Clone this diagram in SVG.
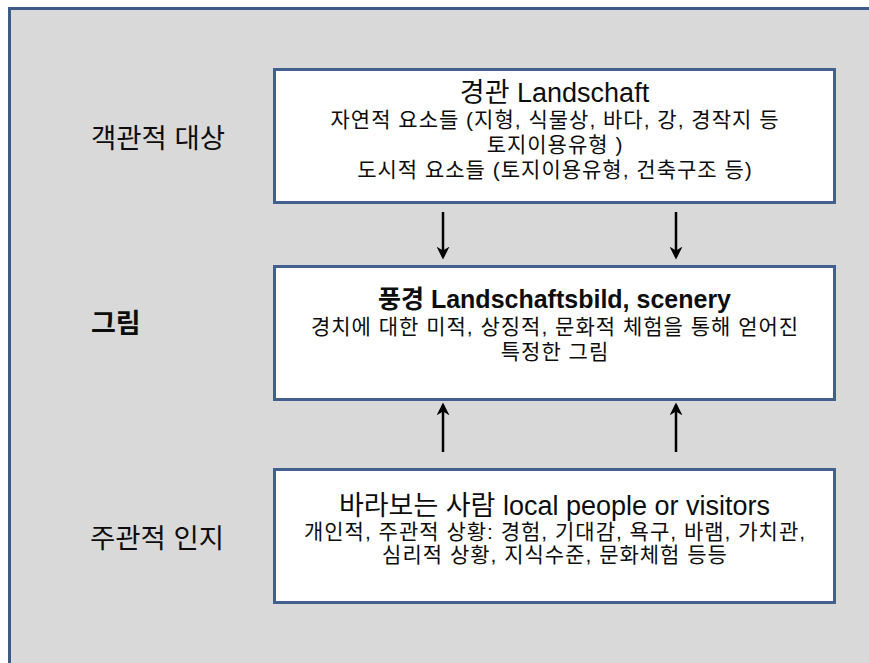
<svg xmlns="http://www.w3.org/2000/svg" width="869" height="663" viewBox="0 0 869 663">
<defs>
<style>
.frame{fill:#d9d9d9;stroke:#3d5b87;stroke-width:3}
.box{fill:#ffffff;stroke:#41618c;stroke-width:3}
text{font-family:"Liberation Sans","Noto Sans CJK KR",sans-serif;fill:#0d0d0d;text-anchor:middle}
.lbl{font-size:27.5px;text-anchor:start}
.title{font-size:27px}
.tb{font-size:25px;font-weight:bold}
.sub{font-size:21px;letter-spacing:1px}
.b{font-weight:bold}
.arr{stroke:#000;stroke-width:2.5;fill:none;marker-end:url(#ah)}
</style>
<marker id="ah" viewBox="0 0 10 10" refX="8" refY="5" markerWidth="5.2" markerHeight="5.2" orient="auto" markerUnits="strokeWidth">
<path d="M0,0 L10,5 L0,10 L3,5 z" fill="#000"/>
</marker>
</defs>
<rect width="869" height="663" fill="#ffffff"/>
<rect class="frame" x="9.5" y="8.5" width="880" height="680"/>
<g id="label-objective"><text class="lbl" x="91" y="148">객관적 대상</text></g>
<g id="label-picture"><text class="lbl b" x="91" y="333" style="font-size:27px">그림</text></g>
<g id="label-subjective"><text class="lbl" x="90" y="548">주관적 인지</text></g>
<g id="node-landschaft">
<rect class="box" x="274.5" y="69.5" width="560" height="133"/>
<text class="title" x="554.5" y="102">경관 Landschaft</text>
<text class="sub" x="555" y="127">자연적 요소들 (지형, 식물상, 바다, 강, 경작지 등</text>
<text class="sub" x="555" y="152">토지이용유형 )</text>
<text class="sub" x="555" y="177">도시적 요소들 (토지이용유형, 건축구조 등)</text>
</g>
<g id="node-scenery">
<rect class="box" x="274.5" y="266.5" width="560" height="133"/>
<text class="tb" x="554.5" y="308">풍경 Landschaftsbild, scenery</text>
<text class="sub" x="555" y="334">경치에 대한 미적, 상징적, 문화적 체험을 통해 얻어진</text>
<text class="sub" x="555" y="359">특정한 그림</text>
</g>
<g id="node-viewer">
<rect class="box" x="274.5" y="469.5" width="560" height="133"/>
<text class="title" x="554.5" y="515">바라보는 사람 local people or visitors</text>
<text class="sub" x="555" y="539">개인적, 주관적 상황: 경험, 기대감, 욕구, 바램, 가치관,</text>
<text class="sub" x="555" y="562">심리적 상황, 지식수준, 문화체험 등등</text>
</g>
<g id="connectors">
<line class="arr" x1="443" y1="212" x2="443" y2="257"/>
<line class="arr" x1="676" y1="212" x2="676" y2="257"/>
<line class="arr" x1="443" y1="452" x2="443" y2="405"/>
<line class="arr" x1="676" y1="452" x2="676" y2="405"/>
</g>
</svg>
